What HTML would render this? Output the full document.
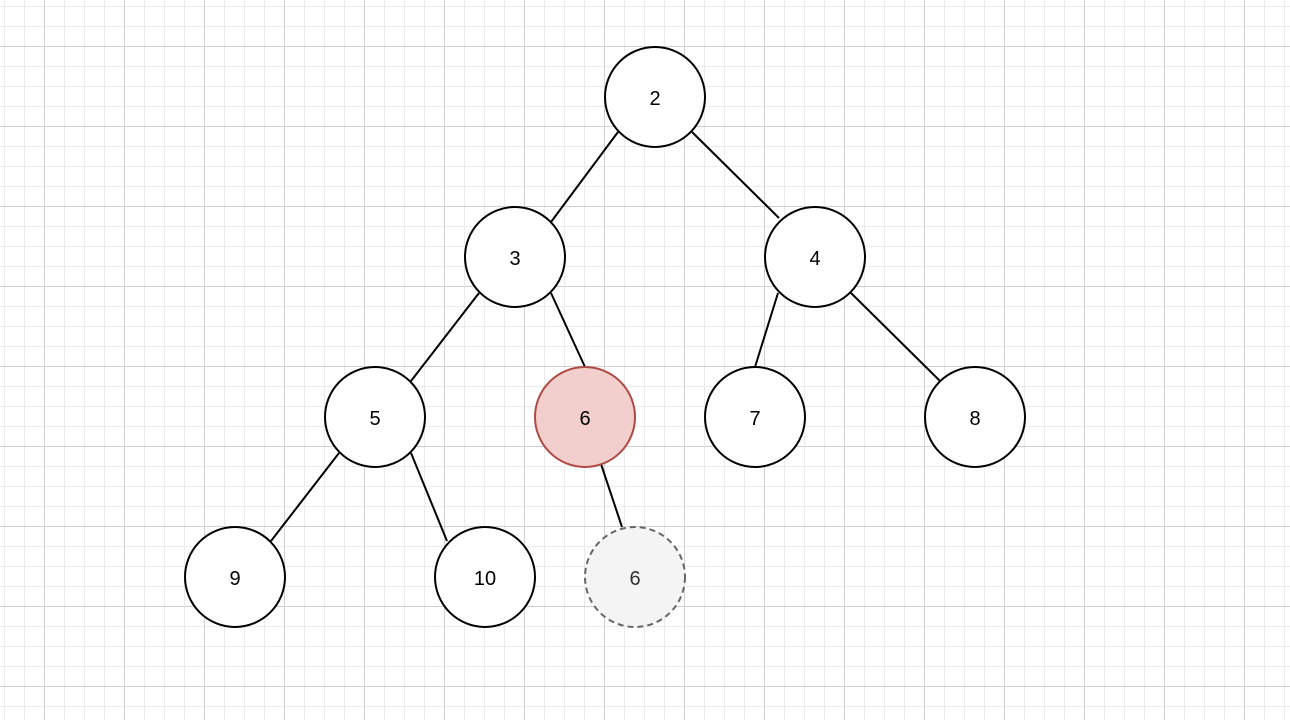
<!DOCTYPE html>
<html><head><style>
html,body{margin:0;padding:0;background:#fff;}
svg{display:block;}
text{font-family:"Liberation Sans",Helvetica,Arial,sans-serif;font-size:20px;}
</style></head><body>
<svg width="1290" height="720" xmlns="http://www.w3.org/2000/svg">
<defs>
<pattern id="minor" x="4" y="6" width="20" height="20" patternUnits="userSpaceOnUse">
<path d="M0 0.5 H20 M0.5 0 V20" stroke="#ebebeb" stroke-width="1" fill="none"/>
</pattern>
<pattern id="major" x="44" y="46" width="80" height="80" patternUnits="userSpaceOnUse">
<path d="M0 0.5 H80 M0.5 0 V80" stroke="#d0d0d0" stroke-width="1" fill="none"/>
</pattern>
</defs>
<rect width="1290" height="720" fill="url(#minor)"/>
<rect width="1290" height="720" fill="url(#major)"/>
<g stroke="#000" stroke-width="2" fill="none">
<line x1="618" y1="132" x2="551" y2="222"/>
<line x1="692" y1="132" x2="779" y2="218"/>
<line x1="479" y1="293" x2="411" y2="381"/>
<line x1="551" y1="293" x2="585" y2="367"/>
<line x1="778" y1="293" x2="755" y2="367"/>
<line x1="851" y1="293" x2="940" y2="381"/>
<line x1="339" y1="453" x2="271" y2="541"/>
<line x1="411" y1="453" x2="447" y2="541"/>
<line x1="601" y1="464" x2="622" y2="527"/>
</g>
<g stroke="#000" stroke-width="2" fill="#fff">
<circle cx="655" cy="97" r="50"/>
<circle cx="515" cy="257" r="50"/>
<circle cx="815" cy="257" r="50"/>
<circle cx="375" cy="417" r="50"/>
<circle cx="755" cy="417" r="50"/>
<circle cx="975" cy="417" r="50"/>
<circle cx="235" cy="577" r="50"/>
<circle cx="485" cy="577" r="50"/>
</g>
<circle cx="585" cy="417" r="50" fill="#f2cfcd" stroke="#ae4b45" stroke-width="2"/>
<circle cx="635" cy="577" r="50" fill="#f4f4f4" stroke="#666" stroke-width="2" stroke-dasharray="6,4"/>
<g text-anchor="middle" fill="#000">
<text x="655" y="105">2</text>
<text x="515" y="265">3</text>
<text x="815" y="265">4</text>
<text x="375" y="425">5</text>
<text x="585" y="425">6</text>
<text x="755" y="425">7</text>
<text x="975" y="425">8</text>
<text x="235" y="585">9</text>
<text x="485" y="585">10</text>
<text x="635" y="585" fill="#333">6</text>
</g>
</svg>
</body></html>
